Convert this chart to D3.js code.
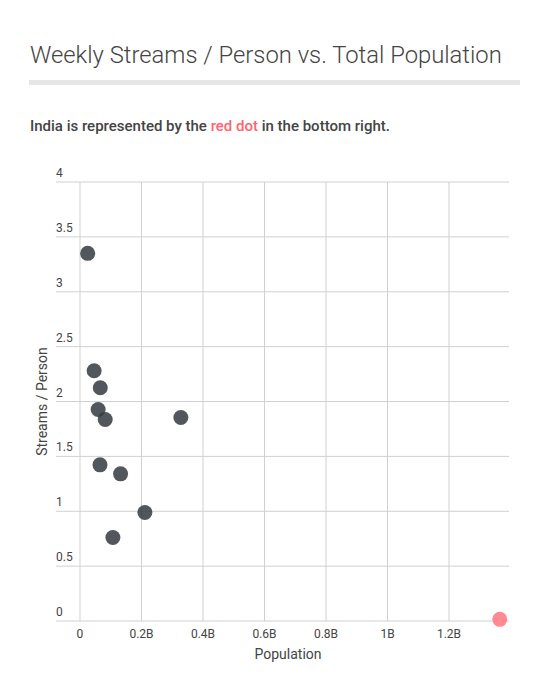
<!DOCTYPE html>
<html lang="en">
<head>
    <meta charset="UTF-8">
    <script src="https://d3js.org/d3.v7.min.js"></script>
    <title>Weekly Streams / Person vs. Total Population</title>
    <style>
        body { margin: 0; background: #fff; font-family: Roboto, sans-serif; }
        svg text { font-family: Roboto, sans-serif; }
    </style>
</head>
<body>
    <script>
        // population (billions) and weekly streams per person
        var population = [0.025, 0.046, 0.066, 0.059, 0.082, 0.328, 0.065, 0.132, 0.211, 0.107, 1.365];
        var streams    = [3.35, 2.28, 2.125, 1.927, 1.836, 1.854, 1.423, 1.341, 0.989, 0.761, 0.015];
        var isIndia    = [false, false, false, false, false, false, false, false, false, false, true];
        var xTicks = [0, 0.2, 0.4, 0.6, 0.8, 1, 1.2];
        var yTicks = [0, 0.5, 1, 1.5, 2, 2.5, 3, 3.5, 4];

        var w = 550;
        var h = 698;

        var svg = d3.select("body")
                    .append("svg")
                    .attr("width", w)
                    .attr("height", h);

        svg.append("text")
            .attr("x", 30)
            .attr("y", 63)
            .attr("font-size", 23.8)
            .attr("font-weight", 300)
            .attr("fill", "#444")
            .text("Weekly Streams / Person vs. Total Population");

        svg.append("rect")
            .attr("x", 29)
            .attr("y", 80)
            .attr("width", 491)
            .attr("height", 5)
            .attr("fill", "#e6e6e6");

        var sub = svg.append("text")
            .attr("x", 30)
            .attr("y", 131)
            .attr("font-size", 15)
            .attr("font-weight", 500)
            .attr("fill", "#444");
        sub.append("tspan").text("India is represented by the ");
        sub.append("tspan").attr("fill", "#ff636e").text("red dot");
        sub.append("tspan").text(" in the bottom right.");

        var plotLeft = 56, plotRight = 509, plotTop = 182, plotBottom = 621;

        var x = d3.scaleLinear()
                  .domain([-0.078, 1.395])
                  .range([plotLeft, plotRight]);
        var y = d3.scaleLinear()
                  .domain([0, 4])
                  .range([plotBottom, plotTop]);

        // horizontal grid + y labels
        var gy = svg.append("g");
        gy.selectAll("line")
            .data(yTicks)
            .enter()
            .append("line")
            .attr("x1", plotLeft)
            .attr("x2", plotRight)
            .attr("y1", function(d) { return y(d); })
            .attr("y2", function(d) { return y(d); })
            .attr("stroke", "#d0d0d0")
            .attr("stroke-width", 1);
        gy.selectAll("text")
            .data(yTicks)
            .enter()
            .append("text")
            .attr("x", plotLeft)
            .attr("y", function(d) { return y(d) - 5; })
            .attr("font-size", 12)
            .attr("fill", "#444")
            .text(function(d) { return d; });

        // vertical grid + x labels
        var gx = svg.append("g");
        gx.selectAll("line")
            .data(xTicks)
            .enter()
            .append("line")
            .attr("x1", function(d) { return x(d); })
            .attr("x2", function(d) { return x(d); })
            .attr("y1", plotTop)
            .attr("y2", plotBottom)
            .attr("stroke", "#d0d0d0")
            .attr("stroke-width", 1);
        gx.selectAll("text")
            .data(xTicks)
            .enter()
            .append("text")
            .attr("x", function(d) { return x(d); })
            .attr("y", plotBottom + 17)
            .attr("text-anchor", "middle")
            .attr("font-size", 12)
            .attr("fill", "#444")
            .text(function(d) { return d === 0 ? "0" : d + "B"; });

        svg.append("text")
            .attr("x", 288)
            .attr("y", 659)
            .attr("text-anchor", "middle")
            .attr("font-size", 14)
            .attr("fill", "#444")
            .text("Population");

        svg.append("text")
            .attr("transform", "translate(47," + ((plotTop + plotBottom) / 2) + ") rotate(-90)")
            .attr("text-anchor", "middle")
            .attr("font-size", 14)
            .attr("fill", "#444")
            .text("Streams / Person");

        svg.append("g")
            .selectAll("circle")
            .data(population)
            .enter()
            .append("circle")
            .attr("cx", function(d) { return x(d); })
            .attr("cy", function(d, i) { return y(streams[i]); })
            .attr("r", 7.5)
            .attr("fill", function(d, i) { return isIndia[i] ? "#ff8a92" : "#343a42"; })
            .attr("fill-opacity", function(d, i) { return isIndia[i] ? 1 : 0.85; });
    </script>
</body>
</html>
